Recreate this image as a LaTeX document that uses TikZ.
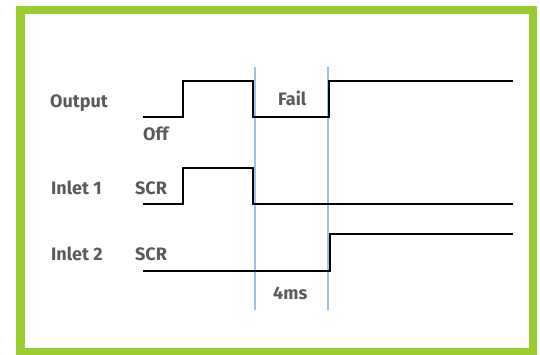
\documentclass[tikz,border=0pt]{standalone}
\usepackage{fontspec}
\setmainfont{Fira Sans}
\definecolor{frame}{RGB}{154,204,50}
\definecolor{guide}{RGB}{155,195,232}
\definecolor{txt}{RGB}{90,90,90}
\begin{document}
\begin{tikzpicture}[x=1pt,y=-1pt,
  lbl/.style={anchor=base west,inner sep=0pt,font=\fontsize{18}{18}\selectfont\bfseries,text=txt},
  wave/.style={draw=black,line width=2pt,line join=miter},
  guideline/.style={draw=guide,line width=1.5pt}]
\useasboundingbox (0,0) rectangle (540,354);
\fill[white] (0,0) rectangle (540,354);
\draw[frame,line width=8.5pt] (20.5,10) rectangle (533,352);
% guide lines
\coordinate (g1t) at (255,67); \coordinate (g1b) at (255,310);
\coordinate (g2t) at (328,67); \coordinate (g2b) at (328,310);
\draw[guideline] (g1t) -- (g1b);
\draw[guideline] (g2t) -- (g2b);
% Output wave
\coordinate (o0) at (143,117); \coordinate (o1) at (183,117); \coordinate (o2) at (183,81);
\coordinate (o3) at (253,81); \coordinate (o4) at (253,117); \coordinate (o5) at (329,117);
\coordinate (o6) at (329,81); \coordinate (o7) at (513,81);
\draw[wave] (o0) -- (o1) -- (o2) -- (o3) -- (o4) -- (o5) -- (o6) -- (o7);
% Inlet 1 wave
\coordinate (a0) at (143,204); \coordinate (a1) at (183,204); \coordinate (a2) at (183,168);
\coordinate (a3) at (253,168); \coordinate (a4) at (253,204); \coordinate (a5) at (513,204);
\draw[wave] (a0) -- (a1) -- (a2) -- (a3) -- (a4) -- (a5);
% Inlet 2 wave
\coordinate (b0) at (143,271); \coordinate (b1) at (330,271); \coordinate (b2) at (330,234);
\coordinate (b3) at (513,234);
\draw[wave] (b0) -- (b1) -- (b2) -- (b3);
% labels
\node[lbl] (output) at (50,107) {Output};
\node[lbl] (off) at (143,140) {Off};
\node[lbl] (fail) at (278,105) {Fail};
\node[lbl] (in1) at (51,194) {Inlet 1};
\node[lbl] (scr1) at (135,194) {SCR};
\node[lbl] (in2) at (51,260) {Inlet 2};
\node[lbl] (scr2) at (135,260) {SCR};
\node[lbl] (ms) at (273,299) {4ms};
\end{tikzpicture}
\end{document}
